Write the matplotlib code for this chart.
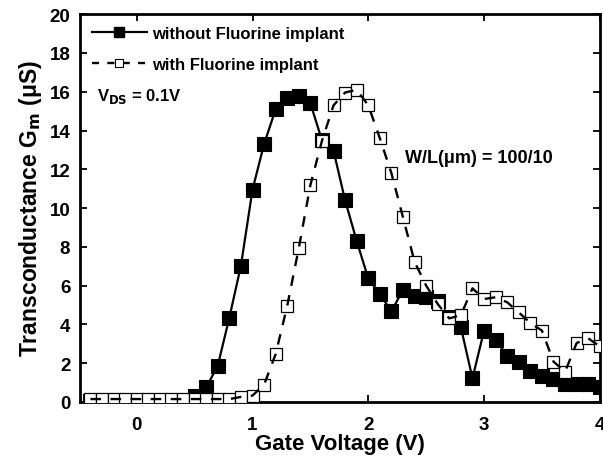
import numpy as np
import matplotlib
matplotlib.use("Agg")
import matplotlib.pyplot as plt
from matplotlib.lines import Line2D

plt.rcParams['font.family'] = ['Liberation Sans', 'DejaVu Sans']
plt.rcParams['font.weight'] = 'bold'
plt.rcParams['mathtext.default'] = 'bf'

# Gate voltage grid (V)
vg = [-0.4, -0.3, -0.2, -0.1, 0.0, 0.1, 0.2, 0.3, 0.4, 0.5, 0.6, 0.7, 0.8, 0.9,
      1.0, 1.1, 1.2, 1.3, 1.4, 1.5, 1.6, 1.7, 1.8, 1.9, 2.0, 2.1, 2.2, 2.3, 2.4,
      2.5, 2.6, 2.7, 2.8, 2.9, 3.0, 3.1, 3.2, 3.3, 3.4, 3.5, 3.6, 3.7, 3.8, 3.9, 4.0]

# Transconductance (uS) without Fluorine implant
gm_without = [0.03, 0.03, 0.03, 0.03, 0.05, 0.03, 0.03, 0.03, 0.05, 0.3, 0.75, 1.87, 4.35, 7.03,
              10.95, 13.3, 15.1, 15.7, 15.8, 15.4, 13.5, 12.95, 10.4, 8.3, 6.37, 5.57, 4.67, 5.79, 5.48,
              5.4, 5.2, 4.4, 3.85, 1.22, 3.68, 3.21, 2.39, 2.05, 1.61, 1.36, 1.19, 0.93, 0.93, 0.93, 0.76]

# Transconductance (uS) with Fluorine implant
gm_with = [0.15, 0.15, 0.15, 0.15, 0.15, 0.15, 0.15, 0.15, 0.15, 0.15, 0.15, 0.15, 0.15, 0.26,
           0.33, 0.89, 2.47, 4.96, 7.94, 11.19, 13.47, 15.3, 15.96, 16.1, 15.3, 13.6, 11.8, 9.52, 7.23,
           6.0, 5.05, 4.31, 4.48, 5.86, 5.31, 5.40, 5.14, 4.62, 4.07, 3.68, 2.08, 1.56, 3.04, 3.28, 2.87]

series_labels = ['without Fluorine implant', 'with Fluorine implant']

fig = plt.figure(figsize=(6.03, 4.60), dpi=100)
ax = fig.add_axes([0.1327, 0.124, 0.862, 0.843])

dash = (0, (4.5, 4.0))
ax.plot(vg, gm_without, '-', color='black', lw=1.6, marker='s', ms=9.4,
        mfc='black', mec='black', mew=0.8, zorder=2)
ax.plot(vg, gm_with, linestyle='none', marker='s', ms=8.6,
        mfc='white', mec='black', mew=0.9, zorder=3)
ax.plot(vg, gm_with, linestyle=dash, color='black', lw=1.7, zorder=4)

h1 = Line2D([], [], linestyle='-', color='black', lw=1.6, marker='s', ms=7.5,
            mfc='black', mec='black')
h2 = Line2D([], [], linestyle=(0, (3.0, 3.5)), color='black', lw=1.7, marker='s', ms=6,
            mfc='white', mec='black', mew=0.8)
ax.legend([h1, h2], series_labels,
          loc='upper left', bbox_to_anchor=(0.0, 1.0), frameon=False,
          handlelength=3.3, handletextpad=0.35, labelspacing=0.95,
          prop={'weight': 'bold', 'size': 12}, borderaxespad=0.4, borderpad=0.3)

ax.text(0.033, 0.79, r'V$_{\mathbf{DS}}$ = 0.1V', transform=ax.transAxes,
        fontsize=12, fontweight='bold', va='center', ha='left')
ax.text(0.626, 0.63, 'W/L(μm) = 100/10', transform=ax.transAxes,
        fontsize=13, fontweight='bold', va='center', ha='left')

ax.set_xlim(-0.49, 4.0)
ax.set_ylim(0, 20)
ax.set_xticks([0, 1, 2, 3, 4])
ax.set_yticks(np.arange(0, 21, 2))
ax.tick_params(direction='in', top=True, right=True, length=5, width=1.3,
               labelsize=13.5)
ax.tick_params(axis='x', pad=10)
ax.tick_params(axis='y', pad=7)
for lab in ax.get_xticklabels() + ax.get_yticklabels():
    lab.set_fontweight('bold')
for sp in ax.spines.values():
    sp.set_linewidth(2.0)

ax.set_xlabel('Gate Voltage (V)', fontsize=16, fontweight='bold', labelpad=0)
ax.set_ylabel(r'Transconductance G$_{\mathbf{m}}$ (μS)', fontsize=16.5, fontweight='bold', labelpad=4)

fig.savefig('out.png', dpi=100)
